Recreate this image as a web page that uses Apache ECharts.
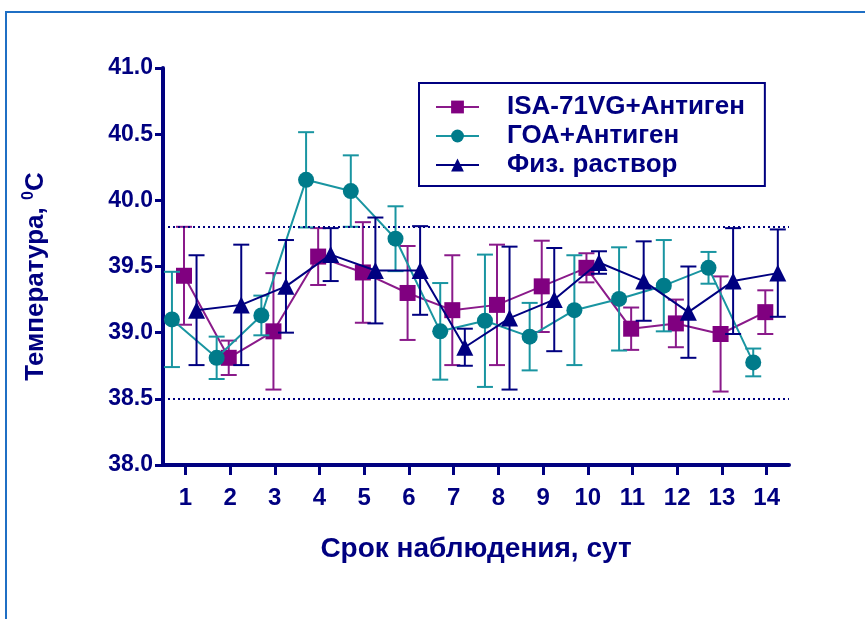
<!DOCTYPE html>
<html>
<head>
<meta charset="utf-8">
<script src="https://cdn.jsdelivr.net/npm/echarts@6/dist/echarts.min.js"></script>
<style>
  html, body { margin: 0; padding: 0; background: #fff; }
  #chart { width: 865px; height: 619px; }
</style>
</head>
<body>
<div id="chart"></div>
<script>
// сутки наблюдения
var days = [1, 2, 3, 4, 5, 6, 7, 8, 9, 10, 11, 12, 13, 14];
var yTicks = [38.0, 38.5, 39.0, 39.5, 40.0, 40.5, 41.0];

// ISA-71VG+Антиген
var isaMean = [39.43, 38.81, 39.01, 39.575, 39.455, 39.30, 39.17, 39.21, 39.35, 39.49, 39.03, 39.07, 38.99, 39.155];
var isaErr  = [0.37, 0.13, 0.44, 0.215, 0.38, 0.355, 0.415, 0.455, 0.345, 0.11, 0.16, 0.18, 0.435, 0.165];
// ГОА+Антиген
var goaMean = [39.10, 38.81, 39.13, 40.155, 40.07, 39.71, 39.01, 39.09, 38.97, 39.17, 39.255, 39.355, 39.49, 38.775];
var goaErr  = [0.36, 0.16, 0.15, 0.36, 0.27, 0.245, 0.365, 0.50, 0.255, 0.415, 0.39, 0.345, 0.12, 0.105];
// Физ. раствор
var fizMean = [39.17, 39.21, 39.35, 39.59, 39.47, 39.47, 38.89, 39.11, 39.25, 39.53, 39.39, 39.155, 39.39, 39.45];
var fizErr  = [0.415, 0.455, 0.35, 0.20, 0.40, 0.335, 0.14, 0.54, 0.39, 0.085, 0.30, 0.345, 0.40, 0.33];

// границы нормы
var normLines = [39.8, 38.5];

var NAVY = '#000080';
var FONT = "'Liberation Sans', Arial, sans-serif";

function points(mean, shift) {
  return days.map(function (d, i) { return [d + shift, mean[i]]; });
}
function bars(mean, err, shift) {
  return days.map(function (d, i) { return [d + shift, mean[i] - err[i], mean[i] + err[i]]; });
}
function errRender(color) {
  return function (params, api) {
    var x = api.value(0);
    var lo = api.coord([x, api.value(1)]);
    var hi = api.coord([x, api.value(2)]);
    var w = 8;
    var st = { stroke: color, lineWidth: 2 };
    return {
      type: 'group',
      children: [
        { type: 'line', shape: { x1: lo[0], y1: lo[1], x2: hi[0], y2: hi[1] }, style: st },
        { type: 'line', shape: { x1: hi[0] - w, y1: hi[1], x2: hi[0] + w, y2: hi[1] }, style: st },
        { type: 'line', shape: { x1: lo[0] - w, y1: lo[1], x2: lo[0] + w, y2: lo[1] }, style: st }
      ]
    };
  };
}

var groups = [
  { name: 'ISA-71VG+Антиген', mean: isaMean, err: isaErr, shift: -0.03, symbol: 'rect', color: '#800080', bar: '#8a1a8a' },
  { name: 'ГОА+Антиген', mean: goaMean, err: goaErr, shift: -0.3, symbol: 'circle', color: '#007b8a', bar: '#1995a1' },
  { name: 'Физ. раствор', mean: fizMean, err: fizErr, shift: 0.25, symbol: 'triangle', color: NAVY, bar: NAVY }
];

var series = [];
groups.forEach(function (g, k) {
  series.push({
    type: 'custom',
    name: g.name + ' err',
    renderItem: errRender(g.bar),
    data: bars(g.mean, g.err, g.shift),
    encode: { x: 0, y: [1, 2] },
    z: 2 + k * 2,
    silent: true
  });
  series.push({
    type: 'line',
    name: g.name,
    data: points(g.mean, g.shift),
    symbol: g.symbol,
    symbolSize: g.symbol === 'triangle' ? 17 : 16,
    lineStyle: { color: g.color === NAVY ? NAVY : g.bar, width: 2 },
    itemStyle: { color: g.color },
    z: 3 + k * 2,
    animation: false
  });
});

// пунктирные линии
series.push({
  type: 'line',
  name: 'norm',
  data: [],
  markLine: {
    silent: true,
    symbol: 'none',
    label: { show: false },
    lineStyle: { color: NAVY, type: [2, 3], width: 2 },
    data: normLines.map(function (v) { return { yAxis: v }; })
  },
  z: 1
});

var chart = echarts.init(document.getElementById('chart'));
chart.setOption({
  animation: false,
  backgroundColor: '#ffffff',
  textStyle: { fontFamily: FONT },
  graphic: [{
    type: 'rect',
    shape: { x: 6, y: 12, width: 1000, height: 1000 },
    style: { fill: 'none', stroke: '#1f6fc4', lineWidth: 2 },
    z: -1
  }],
  grid: { left: 163, right: 76, top: 68, bottom: 154 },
  legend: {
    data: groups.map(function (g) { return g.name; }),
    orient: 'vertical',
    left: 419,
    top: 83,
    padding: [11, 20, 8, 16],
    itemGap: 3,
    itemWidth: 43,
    itemHeight: 16,
    borderColor: NAVY,
    borderWidth: 2,
    textStyle: { color: NAVY, fontWeight: 'bold', fontSize: 26, lineHeight: 24, fontFamily: FONT, padding: [0, 0, 0, 23] }
  },
  xAxis: {
    type: 'value',
    min: 0.5,
    max: 14.5,
    name: 'Срок наблюдения, сут',
    nameLocation: 'middle',
    nameGap: 70,
    nameTextStyle: { color: NAVY, fontWeight: 'bold', fontSize: 28, fontFamily: FONT },
    axisLine: { lineStyle: { color: NAVY, width: 4 } },
    axisTick: { show: true, inside: false, length: 10, lineStyle: { color: NAVY, width: 3 }, customValues: days },
    axisLabel: { color: NAVY, fontWeight: 'bold', fontSize: 24, margin: 21, fontFamily: FONT, customValues: days },
    splitLine: { show: false }
  },
  yAxis: {
    type: 'value',
    min: 38,
    max: 41,
    interval: 0.5,
    name: '{t|Температура, }{s|0}{t|C}',
    nameLocation: 'middle',
    nameGap: 112,
    nameRotate: 90,
    nameTextStyle: {
      color: NAVY,
      padding: [0, 20, 0, 0],
      rich: {
        t: { color: NAVY, fontWeight: 'bold', fontSize: 26, fontFamily: FONT, lineHeight: 30 },
        s: { color: NAVY, fontWeight: 'bold', fontSize: 16, fontFamily: FONT, verticalAlign: 'top', lineHeight: 30 }
      }
    },
    axisLine: { show: true, lineStyle: { color: NAVY, width: 4 } },
    axisTick: { show: true, inside: false, length: 8, lineStyle: { color: NAVY, width: 3 } },
    axisLabel: {
      color: NAVY, fontWeight: 'bold', fontSize: 23, margin: 10, fontFamily: FONT,
      formatter: function (v) { return v.toFixed(1); }
    },
    splitLine: { show: false }
  },
  series: series
});
</script>
</body>
</html>
